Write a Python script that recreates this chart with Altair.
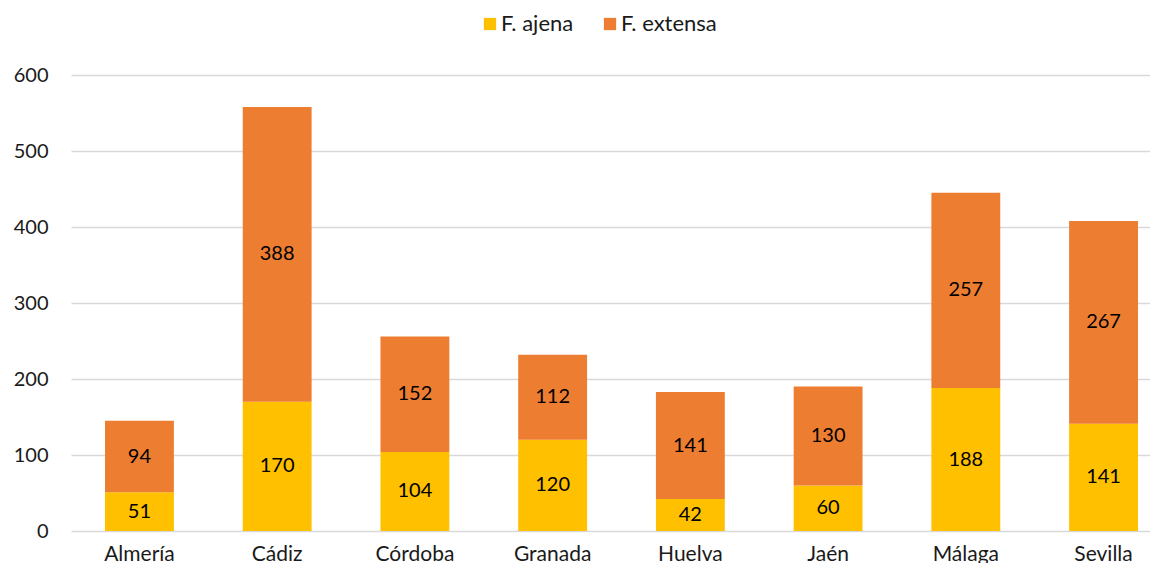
import altair as alt
import pandas as pd

provincias = ["Almería", "Cádiz", "Córdoba", "Granada", "Huelva", "Jaén", "Málaga", "Sevilla"]
ajena = [51, 170, 104, 120, 42, 60, 188, 141]
extensa = [94, 388, 152, 112, 141, 130, 257, 267]
series = ["F. ajena", "F. extensa"]
colors = ["#FFC000", "#ED7D31"]

rows = []
for i, p in enumerate(provincias):
    rows.append({"prov": p, "serie": series[0], "valor": ajena[i], "orden": 0})
    rows.append({"prov": p, "serie": series[1], "valor": extensa[i], "orden": 1})
df = pd.DataFrame(rows)

FONT = "Lato"
W, H = 1079, 456

base = alt.Chart(df).transform_stack(
    stack="valor", groupby=["prov"], as_=["y0", "y1"], sort=[alt.SortField("orden")]
).transform_calculate(mid="(datum.y0 + datum.y1) / 2")

xscale = alt.Scale(paddingInner=0.5, paddingOuter=0.247, range=[0, 1101])

x_enc = alt.X("prov:N", sort=provincias, title=None, scale=xscale,
              axis=alt.Axis(labelAngle=0, domain=False, ticks=False, labelPadding=12,
                            labelFont=FONT, labelFontSize=21, labelColor="#1a1a1a", grid=False))

bars = base.mark_bar().encode(
    x=x_enc,
    y=alt.Y("y0:Q", title=None,
            scale=alt.Scale(domain=[0, 600], nice=False),
            axis=alt.Axis(values=[0, 100, 200, 300, 400, 500, 600], domain=False, ticks=False,
                          labelPadding=23, labelFont=FONT, labelFontSize=20, labelColor="#1a1a1a",
                          gridColor="#D9D9D9", gridWidth=1.5)),
    y2="y1:Q",
    color=alt.Color("serie:N", scale=alt.Scale(domain=series, range=colors),
                    legend=alt.Legend(title=None, orient="none", direction="horizontal",
                                      legendX=408, legendY=-62, symbolType="square",
                                      symbolSize=150, symbolStrokeWidth=0, labelFont=FONT,
                                      labelFontSize=22, labelColor="#1a1a1a", columnPadding=25,
                                      symbolOffset=0, labelOffset=0)),
)

labels = base.mark_text(font=FONT, fontSize=20, color="#000000", baseline="middle").encode(
    x=alt.X("prov:N", sort=provincias, scale=xscale),
    y=alt.Y("mid:Q"),
    text=alt.Text("valor:Q"),
)

chart = alt.layer(bars, labels).properties(
    width=W, height=H,
    autosize=alt.AutoSizeParams(type="none"),
    padding={"left": 63, "top": 67, "right": 0, "bottom": 32},
).configure_view(stroke=None)

chart.save("out.html", embed_options={"renderer": "svg", "actions": False})
